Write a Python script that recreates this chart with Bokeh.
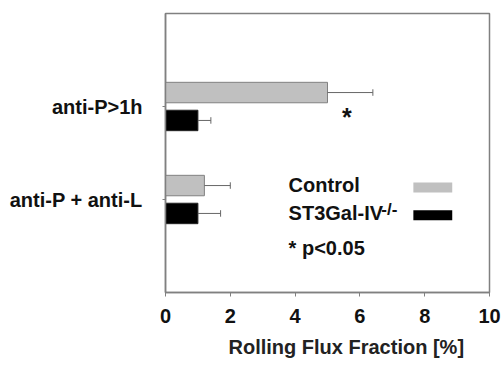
import numpy as np
from bokeh.plotting import figure
from bokeh.models import FixedTicker, Range1d, Title
from bokeh.core.properties import value
from bokeh.embed import file_html
from bokeh.resources import INLINE

# ---- data ----
categories = ["anti-P>1h", "anti-P + anti-L"]
cat_pos = [2, 1]
control_vals = [5.0, 1.2]
control_err = [1.4, 0.8]
ko_vals = [1.0, 1.0]
ko_err = [0.4, 0.7]
series_names = ["Control", "ST3Gal-IV"]
x_ticks = [0, 2, 4, 6, 8, 10]
x_title = "Rolling Flux Fraction [%]"
sig_label = "* p<0.05"
sig_x = 5.6
sig_cat = 2

FONT = "Liberation Sans"
GREY = "#c0c0c0"
EDGE = "#808080"
FS = "20px"

p = figure(width=501, height=367, output_backend="svg", toolbar_location=None,
           x_range=Range1d(0, 10), y_range=Range1d(0, 3),
           min_border_left=165, min_border_top=13, min_border_right=12, min_border_bottom=75)
p.grid.visible = False
p.background_fill_color = "white"
p.border_fill_color = "white"
p.outline_line_color = EDGE
p.outline_line_width = 1.5

off = 0.15
h = 0.22
cy = np.array(cat_pos, dtype=float)
ctrl_y = cy + off
ko_y = cy - off

p.hbar(y=ctrl_y, left=0, right=control_vals, height=h, fill_color=GREY, line_color=EDGE, line_width=1)
p.hbar(y=ko_y, left=0, right=ko_vals, height=h, fill_color="black", line_color="#222222", line_width=1)

for ys, vals, errs in ((ctrl_y, control_vals, control_err), (ko_y, ko_vals, ko_err)):
    vals = np.array(vals); errs = np.array(errs)
    hi = vals + errs
    p.segment(x0=vals, x1=hi, y0=ys, y1=ys, line_color="#666666", line_width=1)
    p.segment(x0=hi, x1=hi, y0=ys - 0.035, y1=ys + 0.035, line_color="#666666", line_width=1)

# significance star
p.text(x=[sig_x], y=[sig_cat - 0.115], text=["*"], text_font=value(FONT), text_font_style="bold",
       text_font_size="25px", text_align="center", text_baseline="middle", text_color="#111111")

# legend (drawn manually, swatches to the right)
lx = 3.8
p.text(x=[lx], y=[1.16], text=[series_names[0]], text_font=value(FONT), text_font_style="bold",
       text_font_size=FS, text_baseline="middle", text_color="#111111")
p.text(x=[lx], y=[0.85], text=[series_names[1]], text_font=value(FONT), text_font_style="bold",
       text_font_size=FS, text_baseline="middle", text_color="#111111")
p.text(x=[lx + 2.86], y=[0.89], text=["-/-"], text_font=value(FONT), text_font_style="bold",
       text_font_size="17px", text_baseline="middle", text_color="#111111")
p.text(x=[lx], y=[0.48], text=[sig_label], text_font=value(FONT), text_font_style="bold",
       text_font_size=FS, text_baseline="middle", text_color="#111111")
p.rect(x=[8.25], y=[1.13], width=1.2, height=0.107, fill_color=GREY, line_color=None)
p.rect(x=[8.25], y=[0.83], width=1.2, height=0.107, fill_color="black", line_color=None)

# axes
xa = p.xaxis[0]
xa.ticker = FixedTicker(ticks=x_ticks)
xa.axis_line_color = EDGE
xa.axis_line_width = 1.5
xa.major_tick_line_color = EDGE
xa.major_tick_out = 4
xa.major_tick_in = 0
xa.minor_tick_line_color = None
xa.major_label_text_font = FONT
xa.major_label_text_font_style = "bold"
xa.major_label_text_font_size = FS
xa.major_label_text_color = "#111111"
xa.major_label_standoff = 12

# x-axis title below the axis, shifted a little right of centre as in the original
p.add_layout(Title(text=x_title, align="left", offset=63, standoff=16,
                   text_font=FONT, text_font_style="bold", text_font_size=FS,
                   text_color="#222222"), "below")

ya = p.yaxis[0]
ya.ticker = FixedTicker(ticks=cat_pos)
ya.major_label_overrides = {c: n for c, n in zip(cat_pos, categories)}
ya.axis_line_color = EDGE
ya.axis_line_width = 1.5
ya.major_tick_line_color = EDGE
ya.major_tick_out = 3
ya.major_tick_in = 0
ya.minor_tick_line_color = None
ya.major_label_text_font = FONT
ya.major_label_text_font_style = "bold"
ya.major_label_text_font_size = FS
ya.major_label_text_color = "#111111"
ya.major_label_standoff = 20

open("out.html", "w").write(file_html(p, INLINE))
